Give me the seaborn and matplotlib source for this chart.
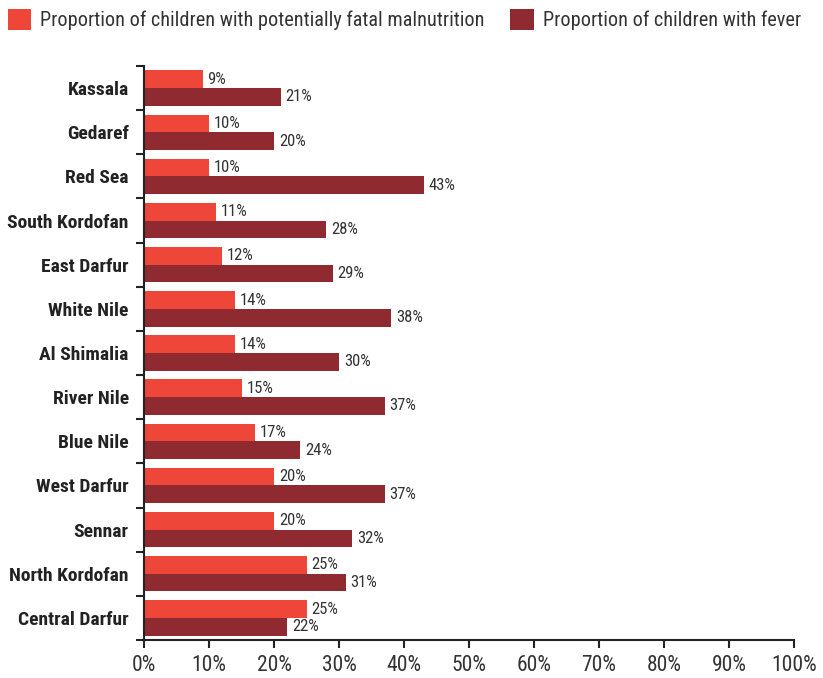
import matplotlib
matplotlib.use("Agg")
import matplotlib.pyplot as plt
import seaborn as sns
import pandas as pd
from matplotlib.patches import Patch
from matplotlib.ticker import FixedLocator, PercentFormatter

regions = ["Kassala", "Gedaref", "Red Sea", "South Kordofan", "East Darfur", "White Nile",
           "Al Shimalia", "River Nile", "Blue Nile", "West Darfur", "Sennar",
           "North Kordofan", "Central Darfur"]
malnutrition = [9, 10, 10, 11, 12, 14, 14, 15, 17, 20, 20, 25, 25]
fever = [21, 20, 43, 28, 29, 38, 30, 37, 24, 37, 32, 31, 22]
series = ["Proportion of children with potentially fatal malnutrition",
          "Proportion of children with fever"]
colors = ["#EF463A", "#8E2A30"]
x_ticks = [0, 10, 20, 30, 40, 50, 60, 70, 80, 90, 100]

df = pd.DataFrame({
    "region": regions * 2,
    "value": malnutrition + fever,
    "series": [series[0]] * len(regions) + [series[1]] * len(regions),
})

sns.set_style("white")
plt.rcParams["font.family"] = ["Roboto Condensed", "DejaVu Sans"]

fig = plt.figure(figsize=(8.23, 6.78), dpi=100)
ax = fig.add_axes([144 / 823, 38 / 678, 650 / 823, 574 / 678])

sns.barplot(data=df, y="region", x="value", hue="series", order=regions,
            hue_order=series, palette=colors, orient="h", width=0.8,
            saturation=1, ax=ax, legend=False, linewidth=0)

for cont in ax.containers:
    ax.bar_label(cont, labels=[f"{v:.0f}%" for v in cont.datavalues],
                 padding=3.5, fontsize=12, color="#333333")

ax.set_xlim(0, 100)
ax.set_ylim(len(regions) - 0.5, -0.5)
ax.xaxis.set_major_locator(FixedLocator(x_ticks))
ax.xaxis.set_major_formatter(PercentFormatter(decimals=0))
ax.set_xlabel("")
ax.set_ylabel("")

ax.set_yticks([i - 0.5 for i in range(len(regions) + 1)])
ax.set_yticklabels([])
ax.set_yticks(range(len(regions)), minor=True)
ax.set_yticklabels(regions, minor=True, fontsize=14, fontweight="bold", color="#222222")
ax.tick_params(axis="y", which="minor", length=0, pad=11)
ax.tick_params(axis="y", which="major", length=6, width=1.5, color="#222222", direction="out", left=True)
ax.tick_params(axis="x", which="major", length=6, width=1.5, color="#222222", direction="out",
               bottom=True, labelsize=15.5, labelcolor="#333333", pad=5)

for s in ["top", "right"]:
    ax.spines[s].set_visible(False)
for s in ["left", "bottom"]:
    ax.spines[s].set_visible(True)
    ax.spines[s].set_color("#222222")
    ax.spines[s].set_linewidth(1.5)

handles = [Patch(facecolor=c, edgecolor="none") for c in colors]
fig.legend(handles, series, loc="upper left", bbox_to_anchor=(-0.005, 1.005), ncol=2,
           frameon=False, handlelength=1.15, handleheight=1.2, handletextpad=0.45,
           columnspacing=1.25, fontsize=14.6, labelcolor="#333333", borderaxespad=0.2)

fig.savefig("out.png", dpi=100)
